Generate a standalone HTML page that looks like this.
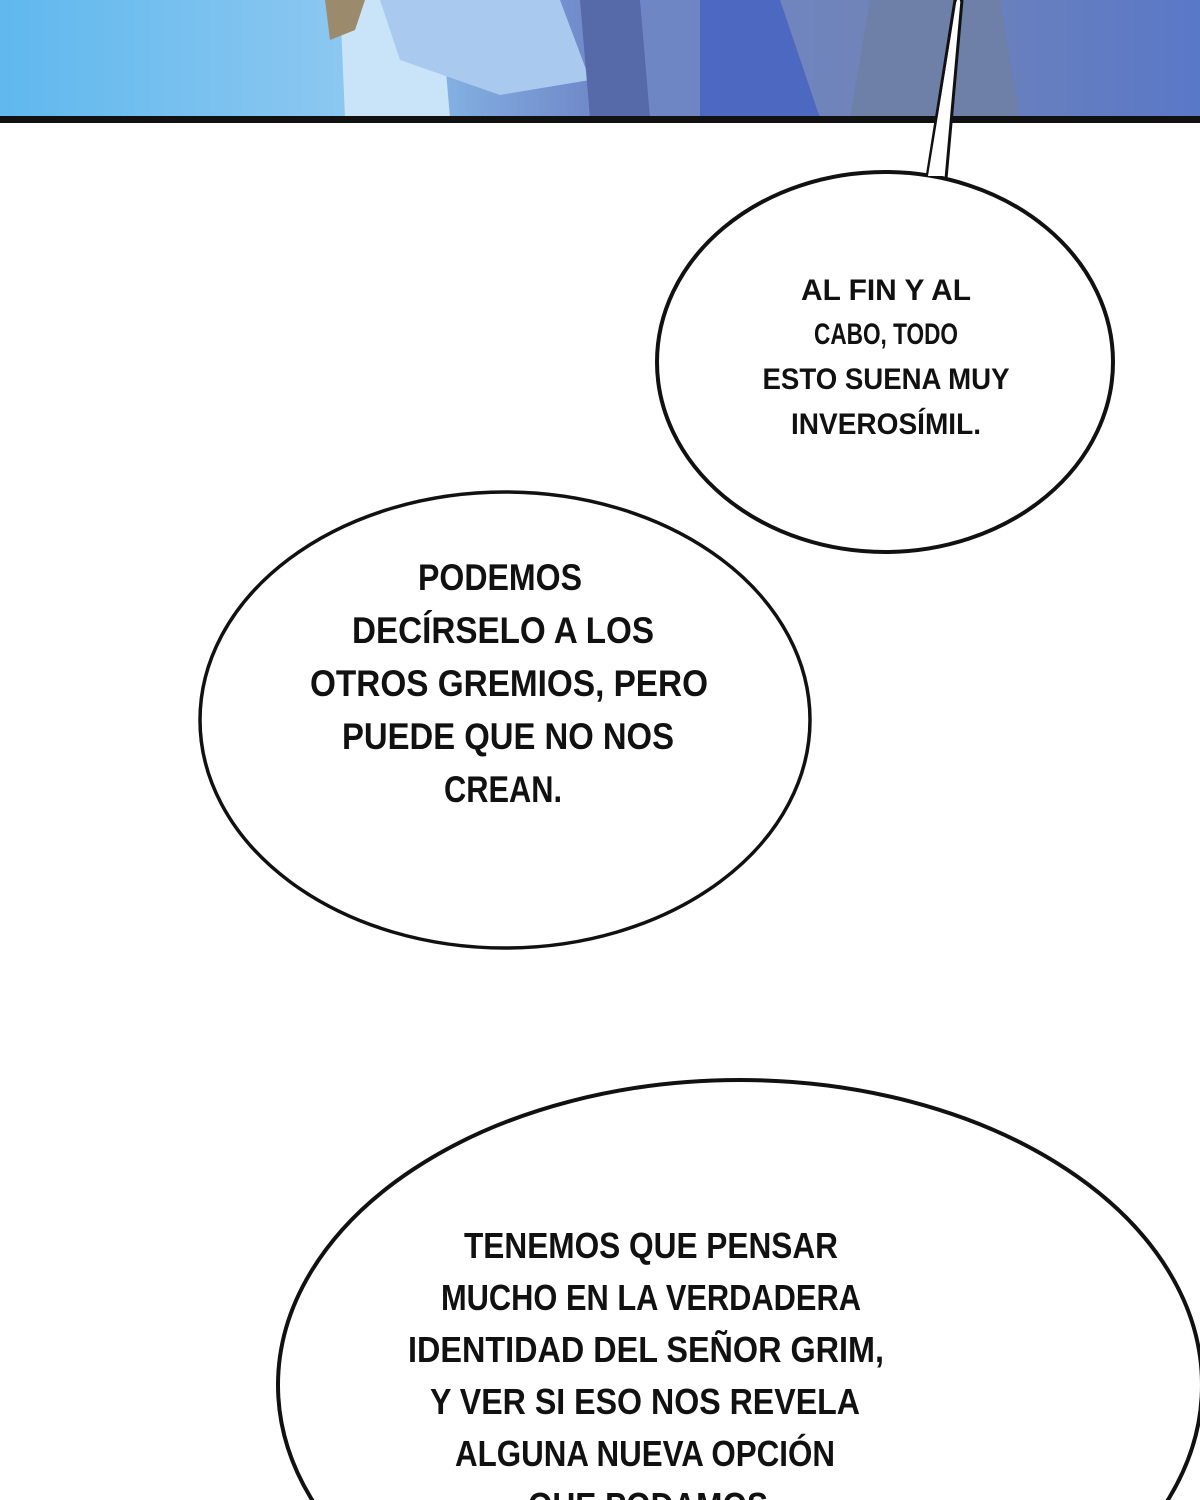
<!DOCTYPE html>
<html><head><meta charset="utf-8"><style>
html,body{margin:0;padding:0;background:#fff;width:1200px;height:1500px;overflow:hidden}
svg{display:block}
text{font-family:"Liberation Sans",sans-serif;font-weight:bold;fill:#111;text-anchor:middle}
</style></head><body>
<svg width="1200" height="1500" viewBox="0 0 1200 1500" xmlns="http://www.w3.org/2000/svg">
<defs>
<linearGradient id="bg" x1="0" y1="0" x2="1" y2="0">
<stop offset="0" stop-color="#5fb8ee"/><stop offset="0.3" stop-color="#8ec8f0"/>
<stop offset="0.5" stop-color="#6f86c8"/><stop offset="0.75" stop-color="#7084b8"/><stop offset="1" stop-color="#5a78c8"/>
</linearGradient>
</defs>
<rect x="0" y="0" width="1200" height="118" fill="url(#bg)"/>
<polygon points="340,0 440,0 450,118 345,118" fill="#c9e4f8"/>
<polygon points="380,0 560,0 590,80 500,95 400,60" fill="#a9c9ee"/>
<polygon points="580,0 640,0 650,118 590,118" fill="#5669a8"/>
<polygon points="700,0 780,0 820,118 700,118" fill="#4c68c0"/>
<polygon points="870,0 1000,0 1020,118 850,118" fill="#6e7fa8"/>
<polygon points="325,0 365,0 355,30 330,40" fill="#9c8a6c"/>
<rect x="0" y="116" width="1200" height="7" fill="#111"/>
<polygon points="925,190 955,0 962,0 945,190" fill="#fff" stroke="#111" stroke-width="3"/>
<ellipse cx="505" cy="720" rx="305" ry="228" fill="#fff" stroke="#111" stroke-width="3.5"/>
<ellipse cx="885" cy="362" rx="228" ry="190" fill="#fff" stroke="#111" stroke-width="4"/>
<polygon points="928,176 957,0 960,0 942,176" fill="#fff"/>
<ellipse cx="740" cy="1385" rx="462" ry="305" fill="#fff" stroke="#111" stroke-width="4"/>
<g font-size="30">
<text x="886" y="300" textLength="170" lengthAdjust="spacingAndGlyphs">AL FIN Y AL</text>
<text x="886" y="344" textLength="144" lengthAdjust="spacingAndGlyphs">CABO, TODO</text>
<text x="886" y="389" textLength="247" lengthAdjust="spacingAndGlyphs">ESTO SUENA MUY</text>
<text x="886" y="434" textLength="190" lengthAdjust="spacingAndGlyphs">INVEROSÍMIL.</text>
</g>
<g font-size="37">
<text x="500" y="590" textLength="164" lengthAdjust="spacingAndGlyphs">PODEMOS</text>
<text x="503" y="643" textLength="302" lengthAdjust="spacingAndGlyphs">DECÍRSELO A LOS</text>
<text x="509" y="696" textLength="398" lengthAdjust="spacingAndGlyphs">OTROS GREMIOS, PERO</text>
<text x="508" y="749" textLength="332" lengthAdjust="spacingAndGlyphs">PUEDE QUE NO NOS</text>
<text x="503" y="802" textLength="118" lengthAdjust="spacingAndGlyphs">CREAN.</text>
</g>
<g font-size="36">
<text x="651" y="1258" textLength="374" lengthAdjust="spacingAndGlyphs">TENEMOS QUE PENSAR</text>
<text x="651" y="1310" textLength="420" lengthAdjust="spacingAndGlyphs">MUCHO EN LA VERDADERA</text>
<text x="646" y="1362" textLength="476" lengthAdjust="spacingAndGlyphs">IDENTIDAD DEL SEÑOR GRIM,</text>
<text x="645" y="1414" textLength="430" lengthAdjust="spacingAndGlyphs">Y VER SI ESO NOS REVELA</text>
<text x="645" y="1466" textLength="380" lengthAdjust="spacingAndGlyphs">ALGUNA NUEVA OPCIÓN</text>
<text x="648" y="1518" textLength="240" lengthAdjust="spacingAndGlyphs">QUE PODAMOS</text>
</g>
</svg>
</body></html>
